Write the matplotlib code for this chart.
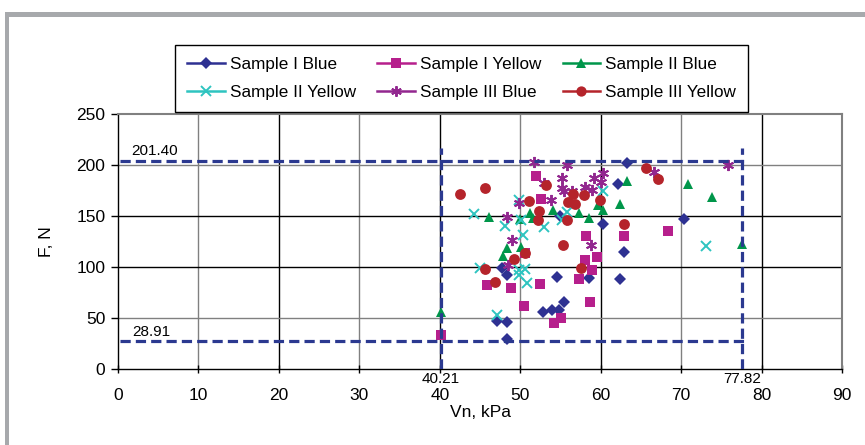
import matplotlib
matplotlib.use("Agg")
import matplotlib.pyplot as plt
from matplotlib.lines import Line2D
from matplotlib.patches import Rectangle
import matplotlib.transforms as mtransforms

plt.rcParams['font.family'] = ['Liberation Sans', 'DejaVu Sans']

# ---------------- data ----------------
s1_blue_x = [47.1, 48.3, 48.3, 47.7, 48.3, 54.6, 52.8, 53.9, 54.8, 55.4, 58.6, 62.4, 62.9, 60.3, 54.9, 70.3, 62.1, 63.3]
s1_blue_y = [47.5, 46.2, 29.2, 99.0, 92.0, 90.5, 56.3, 57.9, 57.5, 65.2, 89.5, 88.0, 115.0, 142.0, 150.4, 147.3, 181.0, 201.5]

s1_yellow_x = [40.2, 45.9, 48.8, 50.5, 50.6, 52.4, 54.2, 55.1, 58.7, 57.3, 58.9, 58.0, 59.5, 58.2, 62.9, 68.4, 52.6, 51.9]
s1_yellow_y = [33.4, 82.6, 79.3, 61.3, 114.0, 83.3, 44.9, 49.9, 65.2, 88.5, 97.5, 106.5, 109.5, 130.8, 130.8, 135.0, 166.8, 188.8]

s2_blue_x = [40.1, 46.1, 47.9, 48.4, 50.1, 50.0, 51.2, 51.6, 54.1, 57.3, 58.5, 60.3, 59.7, 62.4, 63.3, 70.9, 73.8, 77.6]
s2_blue_y = [56.0, 149.2, 111.0, 118.7, 120.0, 147.0, 153.0, 148.0, 156.0, 153.4, 147.6, 155.8, 160.5, 162.2, 184.2, 181.0, 169.0, 123.0]

s2_yellow_x = [44.3, 45.0, 47.1, 48.1, 49.9, 50.1, 50.3, 49.8, 50.6, 49.9, 50.9, 52.9, 55.8, 55.2, 60.3, 73.1]
s2_yellow_y = [152.4, 99.5, 53.0, 140.3, 165.7, 146.5, 131.8, 97.3, 98.0, 92.4, 84.0, 139.3, 153.7, 146.5, 174.4, 120.3]

s3_blue_x = [48.3, 49.0, 48.5, 49.9, 51.7, 53.0, 53.8, 55.8, 55.2, 55.2, 55.4, 56.4, 58.8, 59.2, 60.3, 60.0, 58.1, 58.9, 66.6, 75.8]
s3_blue_y = [149.0, 126.2, 102.3, 162.8, 202.9, 182.6, 165.8, 199.6, 187.5, 177.7, 174.4, 174.4, 122.0, 187.5, 192.5, 183.2, 178.0, 175.5, 193.0, 199.6]

s3_yellow_x = [42.5, 45.6, 45.6, 46.9, 49.2, 50.6, 51.1, 52.3, 52.2, 53.2, 55.3, 55.9, 56.6, 56.8, 55.8, 57.9, 59.9, 57.5, 62.9, 65.6, 67.1]
s3_yellow_y = [171.8, 177.7, 98.5, 85.0, 107.5, 113.8, 164.8, 154.7, 145.8, 180.0, 121.9, 163.5, 171.5, 162.2, 145.8, 170.2, 165.8, 98.6, 142.3, 197.5, 185.8]

series_names = ["Sample I Blue", "Sample I Yellow", "Sample II Blue",
                "Sample II Yellow", "Sample III Blue", "Sample III Yellow"]

# threshold lines (labels and drawn positions)
f_upper_label = "201.40"
f_lower_label = "28.91"
f_upper_y = 204.0
f_lower_y = 27.3
v_left_label = "40.21"
v_right_label = "77.82"
v_left_x = 40.15
v_right_x = 77.6

x_ticks = [0, 10, 20, 30, 40, 50, 60, 70, 80, 90]
y_ticks = [0, 50, 100, 150, 200, 250]

# ---------------- styles ----------------
styles = [
    dict(marker='D', color='#2e3192', ms=6.2, mew=0),
    dict(marker='s', color='#b61f8c', ms=7.0, mew=0),
    dict(marker='^', color='#00964a', ms=7.8, mew=0),
    dict(marker='x', color='#2ec4c0', ms=7.0, mew=1.4),
    dict(marker=(6, 2, 0), color='#92278f', ms=8.0, mew=1.4),
    dict(marker='o', color='#b5242b', ms=7.8, mew=0),
]
data = [(s1_blue_x, s1_blue_y), (s1_yellow_x, s1_yellow_y), (s2_blue_x, s2_blue_y),
        (s2_yellow_x, s2_yellow_y), (s3_blue_x, s3_blue_y), (s3_yellow_x, s3_yellow_y)]

fig = plt.figure(figsize=(8.65, 4.45), dpi=100)
fig.patch.set_facecolor('white')

# outer gray frame
frame_col = '#a7a9ac'
fig.patches.append(Rectangle((5/865, 0), 4/865, 1 - 12/445, transform=fig.transFigure,
                             facecolor=frame_col, edgecolor='none', zorder=0))
fig.patches.append(Rectangle((5/865, 1 - 17/445), 1, 5/445, transform=fig.transFigure,
                             facecolor=frame_col, edgecolor='none', zorder=0))

ax = fig.add_axes([118/865, 1 - 369/445, (842 - 118)/865, (369 - 114)/445])
ax.set_xlim(0, 90)
ax.set_ylim(0, 250)
ax.set_xticks(x_ticks)
ax.set_yticks(y_ticks)

# gridlines
for xv in x_ticks[1:-1]:
    col = '#000000' if xv % 20 == 0 else '#808080'
    ax.axvline(xv, color=col, lw=1.0, zorder=1)
for yv in y_ticks[1:-1]:
    col = '#000000' if yv in (100, 150) else '#808080'
    ax.axhline(yv, color=col, lw=1.0, zorder=1)

for sp in ['left', 'bottom']:
    ax.spines[sp].set_color('black')
    ax.spines[sp].set_linewidth(1.0)
for sp in ['top', 'right']:
    ax.spines[sp].set_color('#808080')
    ax.spines[sp].set_linewidth(1.5)

ax.tick_params(axis='y', direction='out', length=5, width=1, labelsize=12.5, pad=4)
ax.tick_params(axis='x', direction='inout', length=6, width=1, labelsize=12.5, pad=11)

# points
for (xs, ys), st in zip(data, styles):
    ax.plot(xs, ys, linestyle='none', marker=st['marker'], color=st['color'],
            ms=st['ms'], mew=st['mew'], zorder=3)

# dashed threshold lines
dash_col = '#2b3990'
for yv in (f_upper_y, f_lower_y):
    l, = ax.plot([0.3, 78.3], [yv, yv], color=dash_col, lw=2.3, zorder=4)
    l.set_dashes([3.2, 1.6])
for xv in (v_left_x, v_right_x):
    l, = ax.plot([xv, xv], [0, 217], color=dash_col, lw=2.3, zorder=4)
    l.set_dashes([3.2, 1.6])

ax.text(1.6, f_upper_y + 2.5, f_upper_label, fontsize=11, ha='left', va='bottom', zorder=5)
ax.text(1.8, f_lower_y + 2.5, f_lower_label, fontsize=11, ha='left', va='bottom', zorder=5)
trans = mtransforms.blended_transform_factory(ax.transData, ax.transAxes)
ax.text(v_left_x, -0.012, v_left_label, fontsize=11, ha='center', va='top', transform=trans, clip_on=False)
ax.text(v_right_x, -0.012, v_right_label, fontsize=11, ha='center', va='top', transform=trans, clip_on=False)

ax.set_xlabel("Vn, kPa", fontsize=12.5, labelpad=1)
ax.set_ylabel("F, N", fontsize=12.5, labelpad=16)

# legend (row-wise order like the reference: reorder for column-major filling)
handles = [Line2D([], [], color=st['color'], lw=1.8, marker=st['marker'], ms=st['ms'] * 0.95,
                  mew=st['mew']) for st in styles]
order = [0, 3, 1, 4, 2, 5]
leg = fig.legend([handles[i] for i in order], [series_names[i] for i in order],
                 loc='upper left', ncol=3,
                 bbox_to_anchor=(175/865, 1 - 45/445), fontsize=12.3,
                 frameon=True, fancybox=False, edgecolor='black', framealpha=1,
                 handlelength=2.2, handletextpad=0.3, columnspacing=1.25,
                 borderpad=0.7, labelspacing=0.75, borderaxespad=0)
leg.get_frame().set_linewidth(1.0)

fig.savefig("out.png", dpi=100)
